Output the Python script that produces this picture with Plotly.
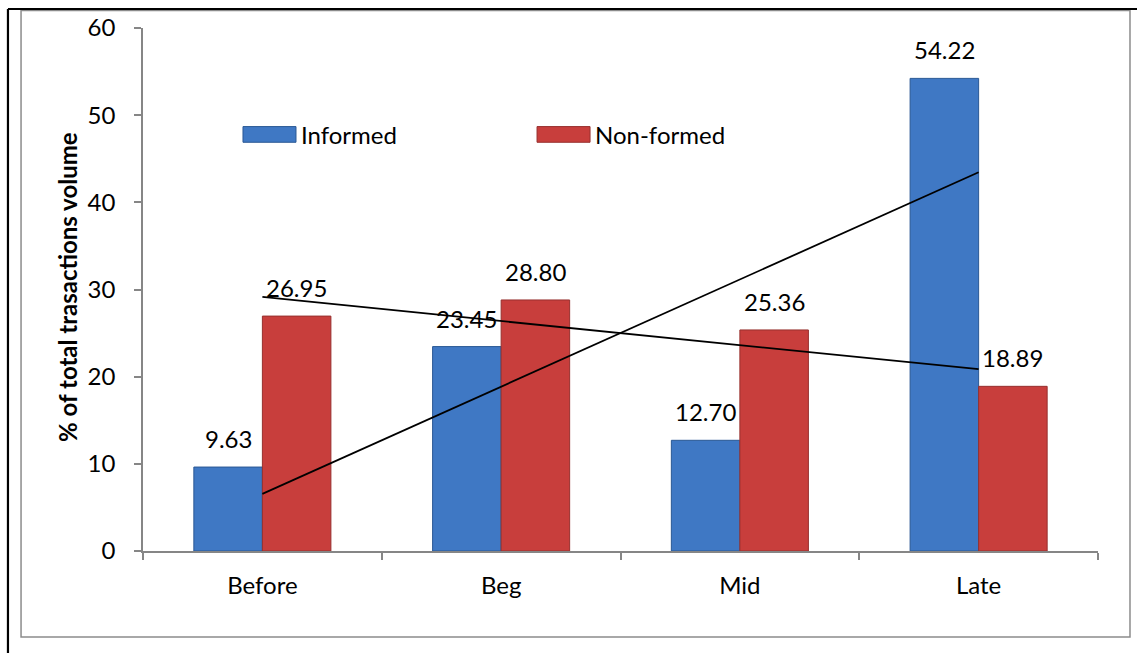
import numpy as np
import plotly.graph_objects as go

# Share of total transaction volume by period
categories = ["Before", "Beg", "Mid", "Late"]
informed = [9.63, 23.45, 12.70, 54.22]
non_formed = [26.95, 28.80, 25.36, 18.89]
series_names = ["Informed", "Non-formed"]
y_ticks = [0, 10, 20, 30, 40, 50, 60]

FONT = "Lato, Calibri, sans-serif"
FS = 24
BLUE = "#3F78C4"
BLUE_EDGE = "#2A5894"
RED = "#C83E3C"
RED_EDGE = "#97302E"
AXIS_GREY = "#868686"

BAR_W = 0.287
xs = np.arange(len(categories))

fig = go.Figure()

fig.add_trace(go.Bar(
    x=xs, y=informed, name=series_names[0], width=BAR_W, offset=-BAR_W,
    marker=dict(color=BLUE, line=dict(color=BLUE_EDGE, width=1)),
    showlegend=False,
))
fig.add_trace(go.Bar(
    x=xs, y=non_formed, name=series_names[1], width=BAR_W, offset=0,
    marker=dict(color=RED, line=dict(color=RED_EDGE, width=1)),
    showlegend=False,
))

# Linear trend lines for each series
for vals in (informed, non_formed):
    slope, intercept = np.polyfit(xs, vals, 1)
    fig.add_trace(go.Scatter(
        x=xs, y=slope * xs + intercept, mode="lines",
        line=dict(color="black", width=1.8), showlegend=False, hoverinfo="skip",
    ))

annotations = []
# Value labels above each bar
for vals, shift in ((informed, -BAR_W / 2), (non_formed, BAR_W / 2)):
    for x, v in zip(xs, vals):
        annotations.append(dict(
            x=x + shift, y=v, xref="x", yref="y", text=f"{v:.2f}",
            showarrow=False, yanchor="bottom", yshift=12,
            font=dict(family=FONT, size=FS, color="black"),
        ))

# Y axis title
annotations.append(dict(
    x=-0.0785, y=0.505, xref="paper", yref="paper",
    text="<b>% of total trasactions volume</b>", textangle=-90,
    showarrow=False, xanchor="center", yanchor="middle",
    font=dict(family=FONT, size=24, color="black"),
))

# Legend: swatches and labels
legend_items = [(series_names[0], BLUE, BLUE_EDGE, 0.1047), (series_names[1], RED, RED_EDGE, 0.4126)]
shapes = []
for name, fill, edge, lx in legend_items:
    shapes.append(dict(
        type="rect", xref="paper", yref="paper",
        x0=lx, x1=lx + 0.0555, y0=0.7815, y1=0.8115,
        fillcolor=fill, line=dict(color=edge, width=1),
    ))
    annotations.append(dict(
        x=lx + 0.0585, y=0.7965, xref="paper", yref="paper", text=name,
        showarrow=False, xanchor="left", yanchor="middle",
        font=dict(family=FONT, size=FS, color="black"),
    ))

# Chart frame (grey) and outer cell border (black)
shapes.append(dict(
    type="rect", xref="paper", yref="paper",
    x0=-0.1277, x1=1.0335, y0=-0.1644, y1=1.0335,
    line=dict(color="#8C8C8C", width=1.5), fillcolor="rgba(0,0,0,0)", layer="below",
))
shapes.append(dict(
    type="line", xref="paper", yref="paper",
    x0=-0.1414, x1=1.05, y0=1.0363, y1=1.0363,
    line=dict(color="black", width=2.2),
))
shapes.append(dict(
    type="line", xref="paper", yref="paper",
    x0=-0.1414, x1=-0.1414, y0=1.0363, y1=-0.2,
    line=dict(color="black", width=2.2),
))

fig.update_layout(
    width=1137, height=653,
    margin=dict(l=143, r=39, t=28, b=102),
    paper_bgcolor="white", plot_bgcolor="white",
    barmode="overlay",
    font=dict(family=FONT, size=FS, color="black"),
    annotations=annotations,
    shapes=shapes,
    xaxis=dict(
        range=[-0.5, len(categories) - 0.5],
        tickvals=list(xs), ticktext=categories, ticks="",
        showline=True, linecolor=AXIS_GREY, linewidth=1.5,
        showgrid=False, zeroline=False, ticklabelstandoff=12,
        tickfont=dict(family=FONT, size=FS, color="black"),
        minor=dict(
            tickvals=list(np.arange(-0.5, len(categories), 1.0)),
            ticks="outside", ticklen=7, tickcolor=AXIS_GREY, tickwidth=1.5,
            showgrid=False,
        ),
    ),
    yaxis=dict(
        range=[0, 60], tickvals=y_ticks, ticks="outside", ticklen=7,
        tickcolor=AXIS_GREY, tickwidth=1.5,
        showline=True, linecolor=AXIS_GREY, linewidth=1.5,
        showgrid=False, zeroline=False, ticklabelstandoff=14,
        tickfont=dict(family=FONT, size=FS, color="black"),
    ),
)

fig.write_html("out.html")
